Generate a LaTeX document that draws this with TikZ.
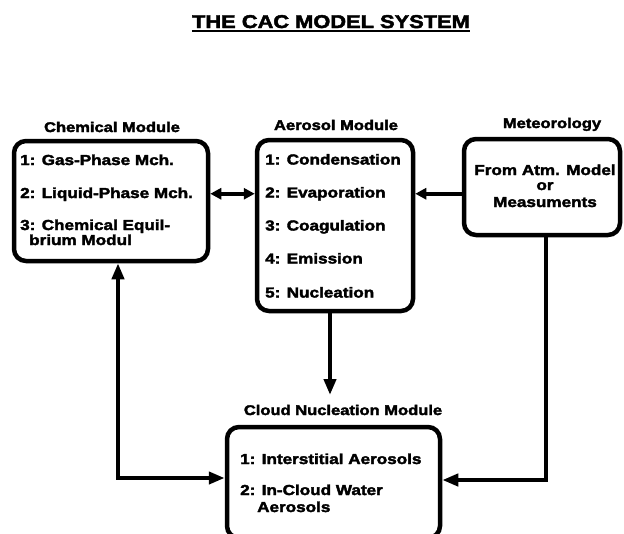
\documentclass[tikz,border=0pt]{standalone}
\usepackage{fontspec}
\newfontfamily\hv{Liberation Sans Bold}[FakeStretch=1.18,FakeBold=2.5]
\usetikzlibrary{arrows.meta}
\begin{document}
\begin{tikzpicture}[x=1pt,y=-1pt,
  module/.style={draw, line width=4.5pt, rounded corners=12pt, inner sep=0pt},
  heading/.style={anchor=base, inner sep=0pt, font=\hv\fontsize{14}{16}\selectfont},
  item/.style={anchor=base west, inner sep=0pt, font=\hv\fontsize{14.5}{17}\selectfont},
  citem/.style={anchor=base, inner sep=0pt, font=\hv\fontsize{14.5}{17}\selectfont},
  flow/.style={line width=4.5pt, -{Triangle[length=16pt,width=12pt]}},
  flowboth/.style={line width=4.5pt, {Triangle[length=16pt,width=12pt]}-{Triangle[length=16pt,width=12pt]}},
  link/.style={line width=3.5pt, {Triangle[length=11pt,width=11pt]}-{Triangle[length=11pt,width=11pt]}},
  feed/.style={line width=4.5pt, -{Triangle[length=11pt,width=11pt]}}]
\useasboundingbox (0,0) rectangle (624,533);
\fill[white] (0,0) rectangle (624,533);
\clip (0,0) rectangle (624,533);

% title
\node[anchor=base, inner sep=0pt, font=\hv\fontsize{18.5}{20}\selectfont] (title) at (331,28) {THE CAC MODEL SYSTEM};
\draw[line width=2pt] ([yshift=-3pt]title.base west) -- ([yshift=-3pt]title.base east);

% module boxes
\node[module, minimum width=194pt, minimum height=120pt] (chem) at (111,201) {};
\node[module, minimum width=156pt, minimum height=171pt] (aero) at (335,225.5) {};
\node[module, minimum width=156pt, minimum height=96pt] (met) at (542,187) {};
\node[module, minimum width=213pt, minimum height=111pt] (cloud) at (333.5,482.5) {};

% headings
\node[heading] (chemlbl) at (112,132) {Chemical Module};
\node[heading] (aerolbl) at (336,130) {Aerosol Module};
\node[heading] (metlbl) at (552,128) {Meteorology};
\node[heading] (cloudlbl) at (343,415) {Cloud Nucleation Module};

% chemical module contents
\node[item] (gas) at (20,165) {1: Gas-Phase Mch.};
\node[item] (liq) at (20,198) {2: Liquid-Phase Mch.};
\node[item] (equa) at (20,230) {3: Chemical Equil-};
\node[item] (equb) at (29,245) {brium Modul};

% aerosol module contents
\node[item] (cond) at (265,164.5) {1: Condensation};
\node[item] (evap) at (265,197.5) {2: Evaporation};
\node[item] (coag) at (265,230.5) {3: Coagulation};
\node[item] (emis) at (265,263.5) {4: Emission};
\node[item] (nucl) at (265,297.5) {5: Nucleation};

% meteorology contents
\node[citem] (atm) at (545,175) {From Atm. Model};
\node[citem] (or) at (545,190) {or};
\node[citem] (meas) at (545,207) {Measuments};

% cloud nucleation contents
\node[item] (inter) at (240,464) {1: Interstitial Aerosols};
\node[item] (incl) at (240,495) {2: In-Cloud Water};
\node[item] (incl2) at (257,512) {Aerosols};

% connectors
\draw[link] (chem.east |- evap) -- (aero.west |- evap);
\draw[feed] (met.west |- evap) -- (aero.east |- evap);
\draw[flow] ([xshift=-5pt]aero.south) -- ([xshift=-5pt]aero.south |- 0,395);

\coordinate (lcorner) at (118,478);
\draw[flowboth] (chem.south -| lcorner) -- (lcorner) -- (cloud.west |- lcorner);

\coordinate (rcorner) at (546,480);
\draw[flow] (met.south -| rcorner) -- (rcorner) -- (cloud.east |- rcorner);
\end{tikzpicture}
\end{document}
